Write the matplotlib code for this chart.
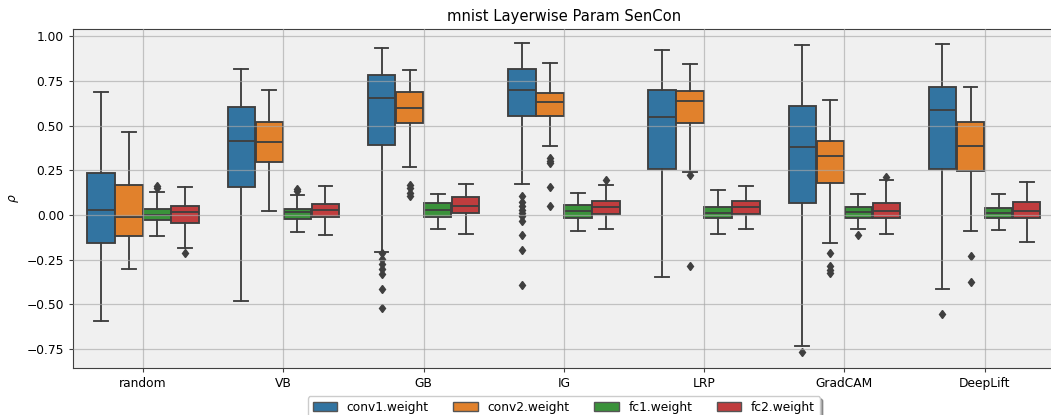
import numpy as np
import matplotlib
matplotlib.use("Agg")
import matplotlib.pyplot as plt
from matplotlib.patches import Patch

methods = ["random", "VB", "GB", "IG", "LRP", "GradCAM", "DeepLift"]
layers = ["conv1.weight", "conv2.weight", "fc1.weight", "fc2.weight"]
colors = ["#3274a1", "#e1812c", "#3a923a", "#c03d3e"]

# per layer: one value per method
conv1_whislo = [-0.593, -0.483, -0.204, 0.175, -0.349, -0.734, -0.416]
conv1_q1 = [-0.154, 0.154, 0.389, 0.552, 0.257, 0.067, 0.257]
conv1_med = [0.028, 0.415, 0.654, 0.697, 0.550, 0.381, 0.588]
conv1_q3 = [0.232, 0.604, 0.781, 0.816, 0.699, 0.610, 0.717]
conv1_whishi = [0.690, 0.816, 0.933, 0.959, 0.924, 0.950, 0.955]
conv1_fliers = [[], [],
                [-0.215, -0.245, -0.273, -0.301, -0.331, -0.412, -0.518],
                [0.104, 0.071, 0.048, 0.030, 0.010, -0.007, -0.035, -0.109, -0.198, -0.394],
                [], [-0.765], [-0.553]]

conv2_whislo = [-0.300, 0.023, 0.268, 0.387, 0.242, -0.159, -0.089]
conv2_q1 = [-0.120, 0.296, 0.513, 0.552, 0.513, 0.177, 0.247]
conv2_med = [-0.013, 0.409, 0.597, 0.630, 0.639, 0.327, 0.387]
conv2_q3 = [0.170, 0.522, 0.690, 0.684, 0.693, 0.415, 0.520]
conv2_whishi = [0.463, 0.699, 0.810, 0.851, 0.842, 0.645, 0.717]
conv2_fliers = [[], [],
                [0.170, 0.150, 0.125, 0.105],
                [0.320, 0.300, 0.290, 0.155, 0.050],
                [0.225, -0.284],
                [-0.215, -0.285, -0.305, -0.325],
                [-0.230, -0.373]]

fc1_whislo = [-0.120, -0.094, -0.080, -0.091, -0.105, -0.081, -0.085]
fc1_q1 = [-0.026, -0.020, -0.009, -0.014, -0.016, -0.016, -0.016]
fc1_med = [0.002, 0.019, 0.030, 0.023, 0.012, 0.017, 0.012]
fc1_q3 = [0.034, 0.036, 0.067, 0.056, 0.043, 0.043, 0.041]
fc1_whishi = [0.130, 0.110, 0.115, 0.125, 0.138, 0.119, 0.115]
fc1_fliers = [[0.150, 0.160], [0.135, 0.145], [], [], [], [-0.113], []]

fc2_whislo = [-0.183, -0.111, -0.105, -0.081, -0.076, -0.105, -0.150]
fc2_q1 = [-0.046, -0.013, 0.012, 0.006, 0.008, -0.018, -0.018]
fc2_med = [0.019, 0.028, 0.052, 0.047, 0.047, 0.025, 0.025]
fc2_q3 = [0.049, 0.062, 0.101, 0.080, 0.076, 0.067, 0.071]
fc2_whishi = [0.158, 0.164, 0.173, 0.169, 0.164, 0.193, 0.184]
fc2_fliers = [[-0.215], [], [], [0.197], [], [0.212], []]

layer_stats = [
    (conv1_whislo, conv1_q1, conv1_med, conv1_q3, conv1_whishi, conv1_fliers),
    (conv2_whislo, conv2_q1, conv2_med, conv2_q3, conv2_whishi, conv2_fliers),
    (fc1_whislo, fc1_q1, fc1_med, fc1_q3, fc1_whishi, fc1_fliers),
    (fc2_whislo, fc2_q1, fc2_med, fc2_q3, fc2_whishi, fc2_fliers),
]

fig = plt.figure(figsize=(10.51, 4.15), dpi=100)
ax = fig.add_axes([0.0695, 0.1133, 0.934, 0.817])
ax.set_facecolor("#f0f0f0")
# faint grid drawn over the boxes
ax.set_axisbelow(False)
ax.grid(True, color="#a8a8a8", linewidth=0.9, alpha=0.65, zorder=3)

edge = "#3f3f3f"
lw = 1.35
x = np.arange(len(methods))
offsets = [-0.3, -0.1, 0.1, 0.3]

for k, (lo, q1, med, q3, hi, fl) in enumerate(layer_stats):
    stats = []
    for i in range(len(methods)):
        stats.append(dict(whislo=lo[i], q1=q1[i], med=med[i], q3=q3[i],
                          whishi=hi[i], fliers=fl[i]))
    ax.bxp(stats, positions=x + offsets[k], widths=0.196, patch_artist=True,
           manage_ticks=False,
           boxprops=dict(facecolor=colors[k], edgecolor=edge, linewidth=lw),
           medianprops=dict(color=edge, linewidth=lw),
           whiskerprops=dict(color=edge, linewidth=lw),
           capprops=dict(color=edge, linewidth=lw),
           flierprops=dict(marker="d", markerfacecolor=edge, markeredgecolor=edge,
                           markersize=4.5, linestyle="none"))

ax.set_xticks(x)
ax.set_xticklabels(methods)
ax.set_xlim(-0.5, len(methods) - 0.5)
ax.set_ylim(-0.855, 1.04)
ax.set_yticks([-0.75, -0.5, -0.25, 0.0, 0.25, 0.5, 0.75, 1.0])
ax.tick_params(labelsize=8.8, length=3.1, color="#404040")
ax.set_ylabel(r"$\rho$", fontsize=8.8)
ax.set_title("mnist Layerwise Param SenCon", fontsize=10.6)
for s in ax.spines.values():
    s.set_color("#404040")

handles = [Patch(facecolor=c, edgecolor="#555555", linewidth=1.0, label=l)
           for c, l in zip(colors, layers)]
ax.legend(handles=handles, loc="upper center", bbox_to_anchor=(0.5, -0.065),
          ncol=4, shadow=True, fancybox=True, framealpha=1.0, fontsize=8.8)

fig.savefig("out.png", dpi=100)
